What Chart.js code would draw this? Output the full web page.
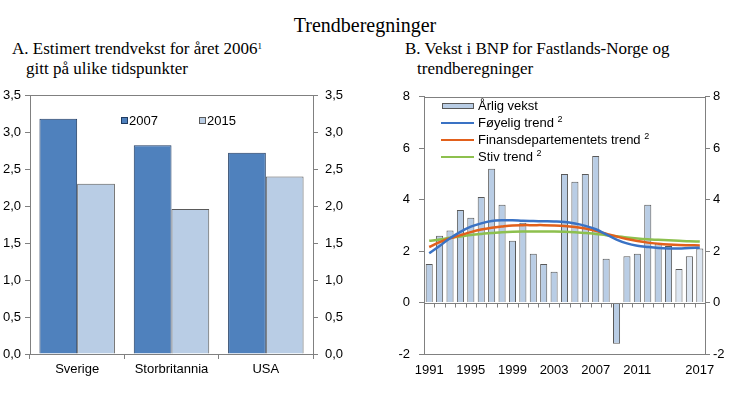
<!DOCTYPE html>
<html>
<head>
<meta charset="utf-8">
<script src="https://cdn.jsdelivr.net/npm/chart.js@4.4.1/dist/chart.umd.min.js"></script>
<style>
  html, body { margin:0; padding:0; background:#fff; }
  #page { position:relative; width:730px; height:395px; overflow:hidden; background:#fff; }
  .serif { font-family:"Liberation Serif","Times New Roman",serif; color:#000; position:absolute; white-space:nowrap; }
  .sans { font-family:"Liberation Sans",Arial,sans-serif; color:#000; position:absolute; white-space:nowrap; font-size:13px; line-height:15px; }
  canvas { position:absolute; }
  sup { font-size:9px; vertical-align:top; position:relative; top:-3px; }
  .sw { position:absolute; box-sizing:border-box; }
</style>
</head>
<body>
<div id="page">
  <div class="serif" style="left:0;width:730px;top:13px;text-align:center;font-size:20px;line-height:24px;">Trendberegninger</div>
  <div class="serif" style="left:12px;top:39px;font-size:17px;line-height:20px;">A. Estimert trendvekst for året 2006<sup>1</sup><br><span style="padding-left:14px">gitt på ulike tidspunkter</span></div>
  <div class="serif" style="left:405px;top:39px;font-size:17px;line-height:20px;">B. Vekst i BNP for Fastlands-Norge og<br><span style="padding-left:12px">trendberegninger</span></div>

  <canvas id="left" width="365" height="305" style="left:0;top:80px;"></canvas>
  <canvas id="right" width="350" height="305" style="left:380px;top:80px;"></canvas>

  <!-- legend A -->
  <div class="sw" style="left:121px;top:117px;width:7px;height:7px;background:#4F81BD;border:1px solid #1F3A60;"></div>
  <div class="sans" style="left:129px;top:113px;">2007</div>
  <div class="sw" style="left:199px;top:117px;width:7px;height:7px;background:#B9CDE5;border:1px solid #5A5A5A;"></div>
  <div class="sans" style="left:207px;top:113px;">2015</div>

  <!-- legend B -->
  <div class="sw" style="left:442px;top:103px;width:32px;height:6px;background:#B9CDE5;border:1px solid #595959;"></div>
  <div class="sans" style="left:478px;top:98px;">Årlig vekst</div>
  <div class="sw" style="left:441px;top:122px;width:33px;height:2px;background:#3A72C4;"></div>
  <div class="sans" style="left:478px;top:115px;">Føyelig trend <sup>2</sup></div>
  <div class="sw" style="left:441px;top:139px;width:33px;height:2px;background:#E2601B;"></div>
  <div class="sans" style="left:478px;top:132px;">Finansdepartementets trend <sup>2</sup></div>
  <div class="sw" style="left:441px;top:156px;width:33px;height:2px;background:#8DC04E;"></div>
  <div class="sans" style="left:478px;top:149px;">Stiv trend <sup>2</sup></div>
</div>

<script>
// ---------- Data ----------
const countries = ['Sverige', 'Storbritannia', 'USA'];
const estimate2007 = [3.18, 2.82, 2.72];
const estimate2015 = [2.30, 1.96, 2.40];
const leftTickValues = [0, 0.5, 1, 1.5, 2, 2.5, 3, 3.5];

const years = [1991, 1992, 1993, 1994, 1995, 1996, 1997, 1998, 1999, 2000,
               2001, 2002, 2003, 2004, 2005, 2006, 2007, 2008, 2009, 2010,
               2011, 2012, 2013, 2014, 2015, 2016, 2017];
const annualGrowth = [1.5, 2.6, 2.8, 3.6, 3.3, 4.1, 5.2, 3.8, 2.4, 3.1,
                      1.9, 1.5, 1.2, 5.0, 4.7, 5.0, 5.7, 1.7, -1.6, 1.8,
                      1.9, 3.8, 2.3, 2.2, 1.3, 1.8, 2.1];
const smoothTrend = [1.92, 2.20, 2.50, 2.75, 2.95, 3.08, 3.17, 3.20, 3.20, 3.18,
                     3.17, 3.16, 3.15, 3.13, 3.07, 2.98, 2.85, 2.65, 2.45, 2.30,
                     2.21, 2.16, 2.12, 2.10, 2.10, 2.12, 2.13];
const ministryTrend = [2.16, 2.35, 2.50, 2.62, 2.74, 2.84, 2.91, 2.96, 3.00, 3.01,
                       3.01, 3.01, 3.00, 2.98, 2.94, 2.88, 2.79, 2.68, 2.57, 2.47,
                       2.39, 2.33, 2.29, 2.26, 2.24, 2.23, 2.22];
const stiffTrend = [2.40, 2.45, 2.52, 2.57, 2.63, 2.67, 2.70, 2.73, 2.75, 2.76,
                    2.76, 2.76, 2.76, 2.75, 2.73, 2.70, 2.67, 2.62, 2.58, 2.53,
                    2.49, 2.46, 2.44, 2.42, 2.40, 2.38, 2.37];
const shownYearLabels = [1991, 1995, 1999, 2003, 2007, 2011, 2017];
const projectedYears = [2015, 2016, 2017];
const rightTickValues = [-2, 0, 2, 4, 6, 8];

// ---------- Styles ----------
const FONT = { family: '"Liberation Sans", Arial, sans-serif', size: 13 };
const AXIS = '#808080';

const framePlugin = {
  id: 'frame',
  afterDatasetsDraw(chart, args, opts) {
    const { ctx, chartArea: a, scales } = chart;
    ctx.save();
    ctx.strokeStyle = AXIS;
    ctx.lineWidth = 1;
    ctx.beginPath();
    ctx.moveTo(a.left, Math.round(a.top) + 0.5);
    ctx.lineTo(a.right, Math.round(a.top) + 0.5);
    ctx.stroke();
    if (opts && opts.zeroLine) {
      const y0 = Math.round(scales.y.getPixelForValue(0)) + 0.5;
      ctx.beginPath();
      ctx.moveTo(a.left, y0);
      ctx.lineTo(a.right, y0);
      const x = scales.x;
      for (let i = 0; i < years.length - 1; i++) {
        const xm = Math.round((x.getPixelForValue(i) + x.getPixelForValue(i + 1)) / 2) + 0.5;
        ctx.moveTo(xm, y0);
        ctx.lineTo(xm, y0 + 4);
      }
      ctx.stroke();
    }
    ctx.restore();
  }
};

function yAxis(position, min, max, step, width, pad, fmt, tickVals) {
  return {
    position, min, max,
    afterBuildTicks: s => { s.ticks = tickVals.map(v => ({ value: v })); },
    ticks: { stepSize: step, color: '#000', font: FONT, padding: pad, callback: fmt },
    grid: { drawOnChartArea: false, drawTicks: true, tickLength: 5, color: AXIS },
    border: { display: true, color: AXIS },
    afterFit: s => { s.width = width; }
  };
}

// ---------- Chart A ----------
new Chart(document.getElementById('left'), {
  type: 'bar',
  data: {
    labels: countries,
    datasets: [
      { label: '2007', data: estimate2007, backgroundColor: '#4F81BD', borderColor: '#1F3A60', borderWidth: 1, yAxisID: 'y' },
      { label: '2015', data: estimate2015, backgroundColor: '#B9CDE5', borderColor: '#5A5A5A', borderWidth: 1, yAxisID: 'y' }
    ]
  },
  options: {
    responsive: false, animation: false, devicePixelRatio: 1,
    layout: { padding: { top: 15, left: 0, right: 0, bottom: 0 } },
    datasets: { bar: { categoryPercentage: 0.8, barPercentage: 1 } },
    plugins: { legend: { display: false }, tooltip: { enabled: false }, frame: {} },
    scales: {
      x: {
        offset: true,
        grid: { display: true, drawOnChartArea: false, drawTicks: true, tickLength: 5, color: AXIS, offset: true },
        border: { display: true, color: AXIS },
        ticks: { color: '#000', font: FONT, padding: 3, maxRotation: 0 },
        afterFit: s => { s.height = 31; }
      },
      y: yAxis('left', 0, 3.5, 0.5, 30, 4, v => v.toFixed(1).replace('.', ','), leftTickValues),
      y2: yAxis('right', 0, 3.5, 0.5, 52, 7, v => v.toFixed(1).replace('.', ','), leftTickValues)
    }
  },
  plugins: [framePlugin]
});

// ---------- Chart B ----------
new Chart(document.getElementById('right'), {
  data: {
    labels: years,
    datasets: [
      { type: 'line', label: 'Føyelig trend', data: smoothTrend, borderColor: '#3A72C4', borderWidth: 2.5, pointRadius: 0, tension: 0.35, order: 1 },
      { type: 'line', label: 'Finansdepartementets trend', data: ministryTrend, borderColor: '#E2601B', borderWidth: 2.5, pointRadius: 0, tension: 0.35, order: 1 },
      { type: 'line', label: 'Stiv trend', data: stiffTrend, borderColor: '#8DC04E', borderWidth: 2.5, pointRadius: 0, tension: 0.35, order: 1 },
      { type: 'bar', label: 'Årlig vekst', data: annualGrowth,
        backgroundColor: years.map(y => projectedYears.includes(y) ? '#DCE6F2' : '#B9CDE5'),
        borderColor: '#595959', borderWidth: 1, barPercentage: 0.68, categoryPercentage: 1, order: 2 }
    ]
  },
  options: {
    responsive: false, animation: false, devicePixelRatio: 1,
    layout: { padding: { top: 15, left: 0, right: 0, bottom: 0 } },
    plugins: { legend: { display: false }, tooltip: { enabled: false }, frame: { zeroLine: true } },
    scales: {
      x: {
        type: 'category', offset: true,
        grid: { display: false, drawTicks: false },
        border: { display: true, color: AXIS },
        ticks: {
          color: '#000', font: FONT, padding: 9, autoSkip: false, maxRotation: 0,
          callback: (v, i) => shownYearLabels.includes(years[i]) ? String(years[i]) : ''
        },
        afterFit: s => { s.height = 31; }
      },
      y: yAxis('left', -2, 8, 2, 44, 9, v => String(v), rightTickValues),
      y2: yAxis('right', -2, 8, 2, 25, 3, v => String(v), rightTickValues)
    }
  },
  plugins: [framePlugin]
});
</script>
</body>
</html>
